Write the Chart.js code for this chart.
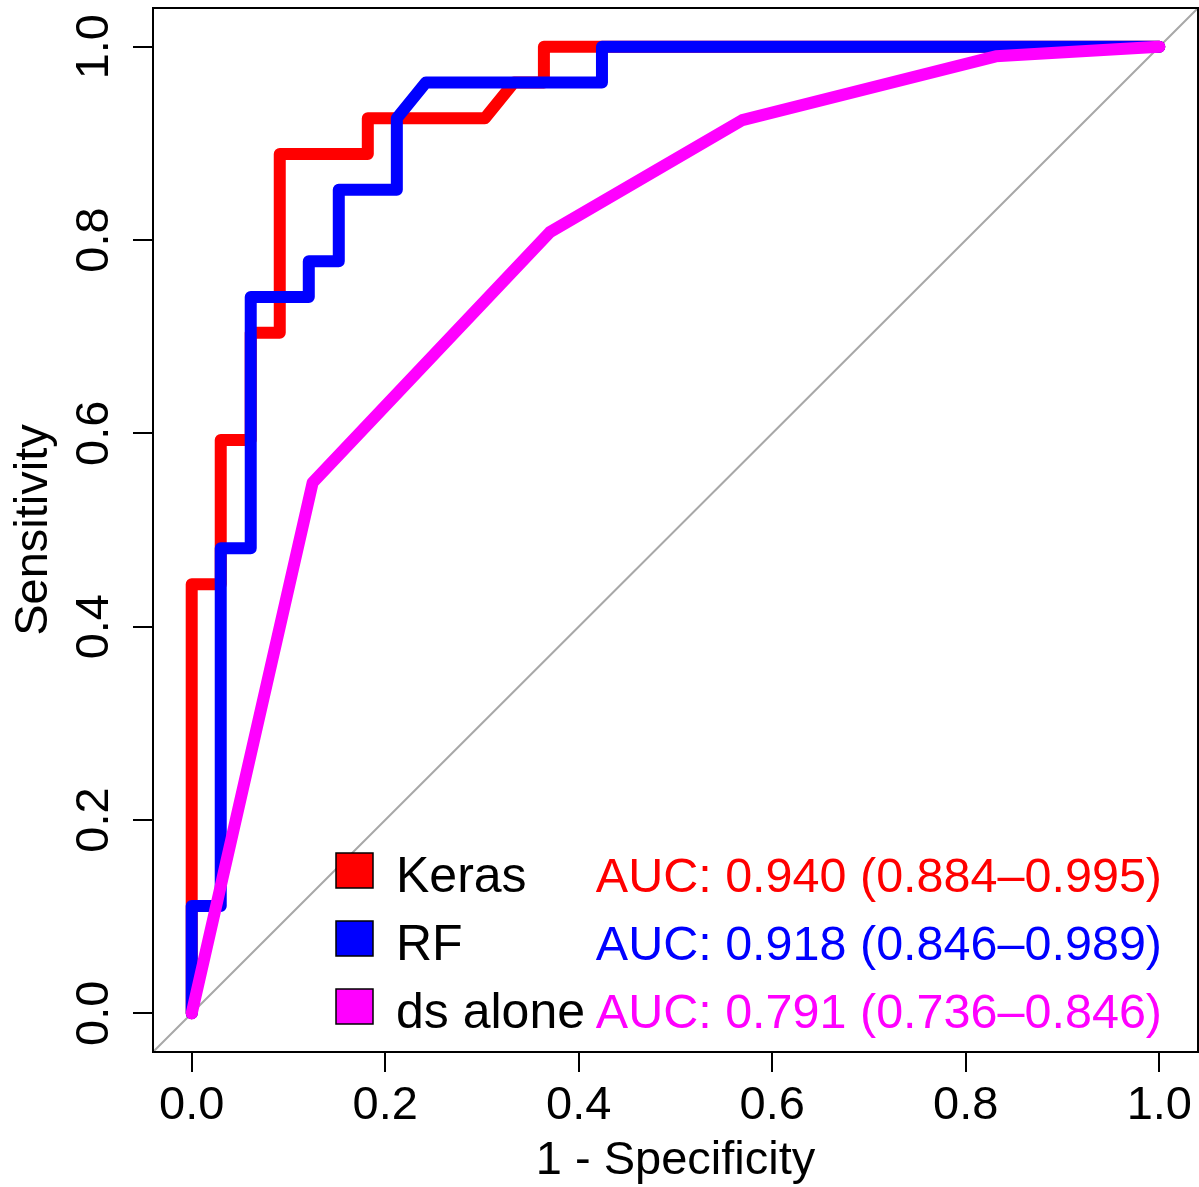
<!DOCTYPE html>
<html>
<head>
<meta charset="utf-8">
<script src="https://cdn.jsdelivr.net/npm/chart.js@4.4.1/dist/chart.umd.min.js"></script>
<style>
  html, body { margin: 0; padding: 0; background: #fff; }
  #wrap { width: 1199px; height: 1187px; }
</style>
</head>
<body>
<div id="wrap"><canvas id="roc"></canvas></div>
<script>
// ROC curves: x = 1 - specificity, y = sensitivity
const kerasX = [0, 0, 0.030, 0.030, 0.061, 0.061, 0.091, 0.091, 0.182, 0.182, 0.303, 0.333, 0.364, 0.364, 1];
const kerasY = [0, 0.444, 0.444, 0.593, 0.593, 0.704, 0.704, 0.889, 0.889, 0.926, 0.926, 0.963, 0.963, 1, 1];

const rfX = [0, 0, 0.030, 0.030, 0.061, 0.061, 0.121, 0.121, 0.152, 0.152, 0.212, 0.212, 0.242, 0.424, 0.424, 1];
const rfY = [0, 0.111, 0.111, 0.481, 0.481, 0.741, 0.741, 0.778, 0.778, 0.852, 0.852, 0.926, 0.963, 0.963, 1, 1];

const dsX = [0, 0.125, 0.370, 0.569, 0.831, 1];
const dsY = [0, 0.549, 0.808, 0.924, 0.990, 1];

// chance line (extends across whole plot, clipped)
const diagX = [-0.04, 1.04];
const diagY = [-0.04, 1.04];

const axisMin = -0.04;
const axisMax = 1.04;
const xTicks = [0, 0.2, 0.4, 0.6, 0.8, 1.0];
const yTicks = [0, 0.2, 0.4, 0.6, 0.8, 1.0];

const seriesNames = ['Keras', 'RF', 'ds alone'];
const seriesColors = ['#FF0000', '#0000FF', '#FF00FF'];
const aucLabels = ['AUC: 0.940 (0.884\u20130.995)', 'AUC: 0.918 (0.846\u20130.989)', 'AUC: 0.791 (0.736\u20130.846)'];

const FONT = "'Liberation Sans', Arial, Helvetica, sans-serif";

function pts(xs, ys) {
  return xs.map((x, i) => ({ x: x, y: ys[i] }));
}

function lineSet(label, xs, ys, color, width, order) {
  return {
    label: label,
    data: pts(xs, ys),
    showLine: true,
    borderColor: color,
    backgroundColor: color,
    borderWidth: width,
    borderJoinStyle: 'round',
    borderCapStyle: 'round',
    pointRadius: 0,
    tension: 0,
    fill: false,
    order: order
  };
}

// frame box, rotated y tick labels, legend + AUC text
const rocDecor = {
  id: 'rocDecor',
  afterDraw(chart) {
    const ctx = chart.ctx;
    const a = chart.chartArea;
    ctx.save();
    ctx.strokeStyle = '#000';
    ctx.lineWidth = 2;
    ctx.strokeRect(a.left, a.top, a.right - a.left, a.bottom - a.top);

    // y tick labels, read bottom-to-top like R's las=0
    const ys = chart.scales.y;
    ctx.fillStyle = '#000';
    ctx.font = '47px ' + FONT;
    ctx.textAlign = 'center';
    ctx.textBaseline = 'alphabetic';
    yTicks.forEach(v => {
      const py = ys.getPixelForValue(v);
      ctx.save();
      ctx.translate(108, py);
      ctx.rotate(-Math.PI / 2);
      ctx.fillText(v.toFixed(1), 0, 0);
      ctx.restore();
    });

    // legend
    const rowBase = [892, 960, 1028];
    seriesNames.forEach((name, i) => {
      const b = rowBase[i];
      ctx.fillStyle = seriesColors[i];
      ctx.fillRect(336, b - 39, 37, 35);
      ctx.strokeStyle = '#000';
      ctx.lineWidth = 1.5;
      ctx.strokeRect(336, b - 39, 37, 35);
      ctx.fillStyle = '#000';
      ctx.textAlign = 'left';
      ctx.font = '50px ' + FONT;
      ctx.fillText(name, 396, b);
      ctx.fillStyle = seriesColors[i];
      ctx.textAlign = 'right';
      ctx.font = '48.5px ' + FONT;
      ctx.fillText(aucLabels[i], 1162, b);
    });
    ctx.restore();
  }
};

const canvas = document.getElementById('roc');
const ctx = canvas.getContext('2d');

new Chart(ctx, {
  type: 'scatter',
  data: {
    datasets: [
      lineSet('diag', diagX, diagY, '#A8A8A8', 2, 4),
      lineSet(seriesNames[0], kerasX, kerasY, seriesColors[0], 12, 3),
      lineSet(seriesNames[1], rfX, rfY, seriesColors[1], 12, 2),
      lineSet(seriesNames[2], dsX, dsY, seriesColors[2], 12, 1)
    ]
  },
  options: {
    responsive: true,
    maintainAspectRatio: false,
    animation: false,
    layout: { padding: { top: 8, right: 1, left: 0, bottom: 0 } },
    plugins: {
      legend: { display: false },
      tooltip: { enabled: false }
    },
    scales: {
      x: {
        type: 'linear',
        min: axisMin,
        max: axisMax,
        afterBuildTicks: (s) => { s.ticks = xTicks.map(v => ({ value: v })); },
        afterFit: (s) => { s.height = 135; },
        border: { display: false },
        grid: {
          drawOnChartArea: false,
          drawTicks: true,
          tickLength: 20,
          color: '#000',
          lineWidth: 2
        },
        ticks: {
          color: '#000',
          padding: 6,
          maxRotation: 0,
          font: { family: FONT, size: 47 },
          callback: (v) => Number(v).toFixed(1)
        },
        title: {
          display: true,
          text: '1 - Specificity',
          color: '#000',
          padding: { top: 0, bottom: 2 },
          font: { family: FONT, size: 47, lineHeight: 1 }
        }
      },
      y: {
        type: 'linear',
        min: axisMin,
        max: axisMax,
        afterBuildTicks: (s) => { s.ticks = yTicks.map(v => ({ value: v })); },
        afterFit: (s) => { s.width = 153; },
        border: { display: false },
        grid: {
          drawOnChartArea: false,
          drawTicks: true,
          tickLength: 20,
          color: '#000',
          lineWidth: 2
        },
        ticks: { display: false },
        title: {
          display: true,
          text: 'Sensitivity',
          color: '#000',
          padding: { top: 11, bottom: 0 },
          font: { family: FONT, size: 47, lineHeight: 1 }
        }
      }
    }
  },
  plugins: [rocDecor]
});
</script>
</body>
</html>
